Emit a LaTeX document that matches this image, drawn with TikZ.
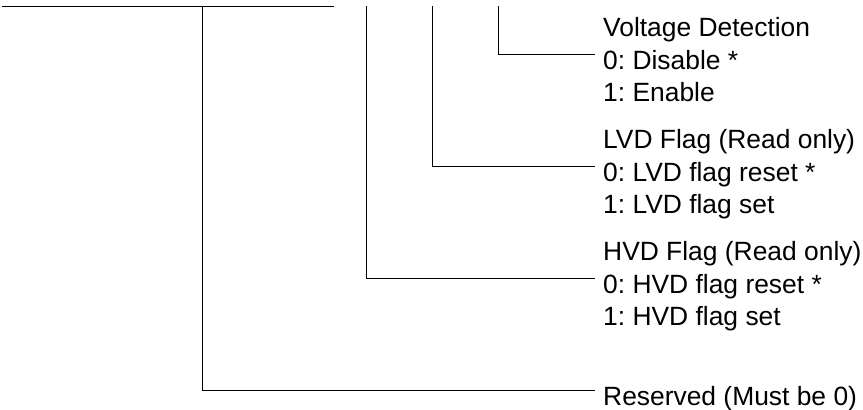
\documentclass[tikz,border=0pt]{standalone}
\usepackage{fontspec}
\setmainfont{Liberation Sans}
\usepackage{tikz}
\usetikzlibrary{positioning}
\frenchspacing

\begin{document}
\begin{tikzpicture}[
  x=1pt, y=-1pt,
  node distance=2pt,
  txt/.style={anchor=west, inner xsep=8pt, inner ysep=0pt, text height=30pt, text depth=0pt, font=\fontsize{26.4}{32}\selectfont},
  wire/.style={line width=1pt}
]
\useasboundingbox (0,0) rectangle (863,410);

% Bit taps
\coordinate (busL) at (2,6);
\coordinate (busR) at (334,6);
\coordinate (rsv) at (202,6);
\coordinate (hvd) at (366,6);
\coordinate (lvd) at (432,6);
\coordinate (vde) at (498,6);

% Voltage detection
\node[txt] (vd0) at (595,54) {0: Disable *};
\node[txt, above right=2pt and 0pt of vd0.north west] (vdT) {Voltage Detection};
\node[txt, below right=2pt and 0pt of vd0.south west] (vd1) {1: Enable};

% LVD flag
\node[txt] (lvd0) at (595,166) {0: LVD flag reset *};
\node[txt, above right=2pt and 0pt of lvd0.north west] (lvdT) {LVD Flag (Read only)};
\node[txt, below right=2pt and 0pt of lvd0.south west] (lvd1) {1: LVD flag set};

% HVD flag
\node[txt] (hvd0) at (595,278) {0: HVD flag reset *};
\node[txt, above right=2pt and 0pt of hvd0.north west] (hvdT) {HVD Flag (Read only)};
\node[txt, below right=2pt and 0pt of hvd0.south west] (hvd1) {1: HVD flag set};

% Reserved
\node[txt] (rsvd) at (595,390) {Reserved (Must be 0)};

% Connectors
\draw[wire] (busL) -- (busR);
\draw[wire] (vde) |- (vd0.west);
\draw[wire] (lvd) |- (lvd0.west);
\draw[wire] (hvd) |- (hvd0.west);
\draw[wire] (rsv) |- (rsvd.west);

\end{tikzpicture}
\end{document}
